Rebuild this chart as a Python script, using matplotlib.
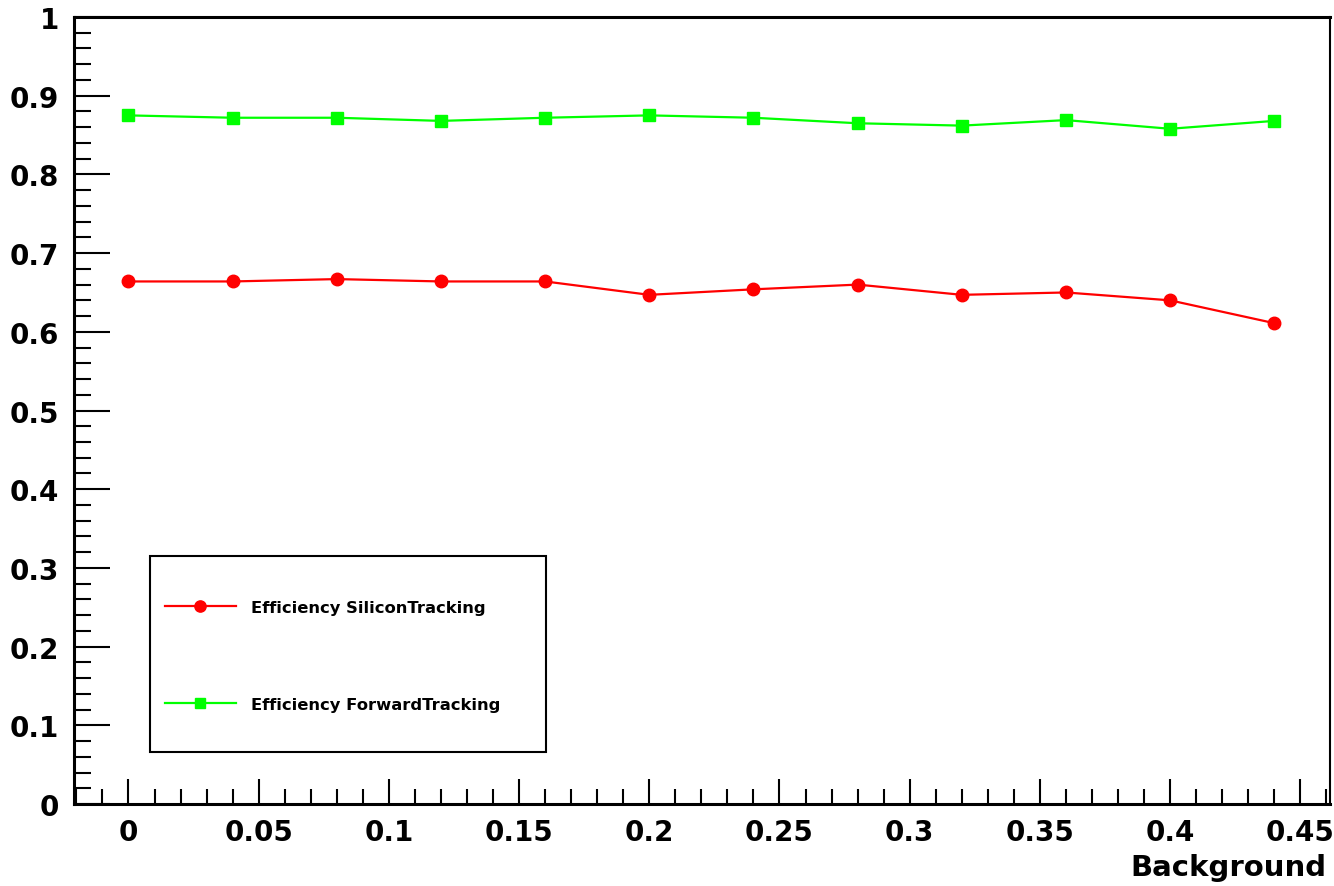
import matplotlib
matplotlib.use('Agg')
import matplotlib.pyplot as plt
from matplotlib.ticker import MultipleLocator, FormatStrFormatter
from matplotlib.patches import Rectangle

background = [0.0, 0.04, 0.08, 0.12, 0.16, 0.20, 0.24, 0.28, 0.32, 0.36, 0.40, 0.44]
eff_silicon = [0.664, 0.664, 0.667, 0.664, 0.664, 0.647, 0.654, 0.660, 0.647, 0.650, 0.640, 0.611]
eff_forward = [0.875, 0.872, 0.872, 0.868, 0.872, 0.875, 0.872, 0.865, 0.862, 0.869, 0.858, 0.868]

plt.rcParams['font.family'] = ['DejaVu Sans']
plt.rcParams['font.weight'] = 'bold'

fig = plt.figure(figsize=(13.34, 8.87), dpi=100)
ax = fig.add_axes([0.0555, 0.0924, 0.9415, 0.8873])

ax.plot(background, eff_silicon, color='#ff0000', lw=1.6, marker='o', ms=9,
        label='Efficiency SiliconTracking')
ax.plot(background, eff_forward, color='#00ff00', lw=1.6, marker='s', ms=8.5,
        label='Efficiency ForwardTracking')

ax.set_xlim(-0.0209, 0.4614)
ax.set_ylim(0, 1)

ax.xaxis.set_major_locator(MultipleLocator(0.05))
ax.xaxis.set_minor_locator(MultipleLocator(0.01))
ax.yaxis.set_major_locator(MultipleLocator(0.1))
ax.yaxis.set_minor_locator(MultipleLocator(0.02))
ax.xaxis.set_major_formatter(FormatStrFormatter('%g'))
ax.yaxis.set_major_formatter(FormatStrFormatter('%g'))

ax.tick_params(axis='both', which='both', direction='in', width=1.5,
               labelsize=20, top=False, right=False)
ax.tick_params(axis='y', which='major', length=26, pad=11)
ax.tick_params(axis='y', which='minor', length=12)
ax.tick_params(axis='x', which='major', length=18, pad=10)
ax.tick_params(axis='x', which='minor', length=11)
for lab in ax.get_xticklabels() + ax.get_yticklabels():
    lab.set_fontweight('bold')

for side in ['left', 'bottom', 'top']:
    ax.spines[side].set_linewidth(2.2)
ax.spines['right'].set_linewidth(1.5)

ax.set_xlabel('Background', fontsize=21, fontweight='bold', ha='right', va='baseline')
ax.xaxis.set_label_coords(0.9976, -0.090)

ax.add_patch(Rectangle((0.0605, 0.066), 0.3153, 0.249, transform=ax.transAxes,
                       fill=False, lw=1.5, edgecolor='black', zorder=5))
ax.legend(loc='center left', bbox_to_anchor=(0.0725, 0.188), frameon=False,
          prop={'weight': 'bold', 'size': 11.8}, handlelength=4.3,
          handletextpad=0.95, labelspacing=5.0, borderpad=0, borderaxespad=0,
          markerscale=0.9)

plt.savefig('out.png', dpi=100)
